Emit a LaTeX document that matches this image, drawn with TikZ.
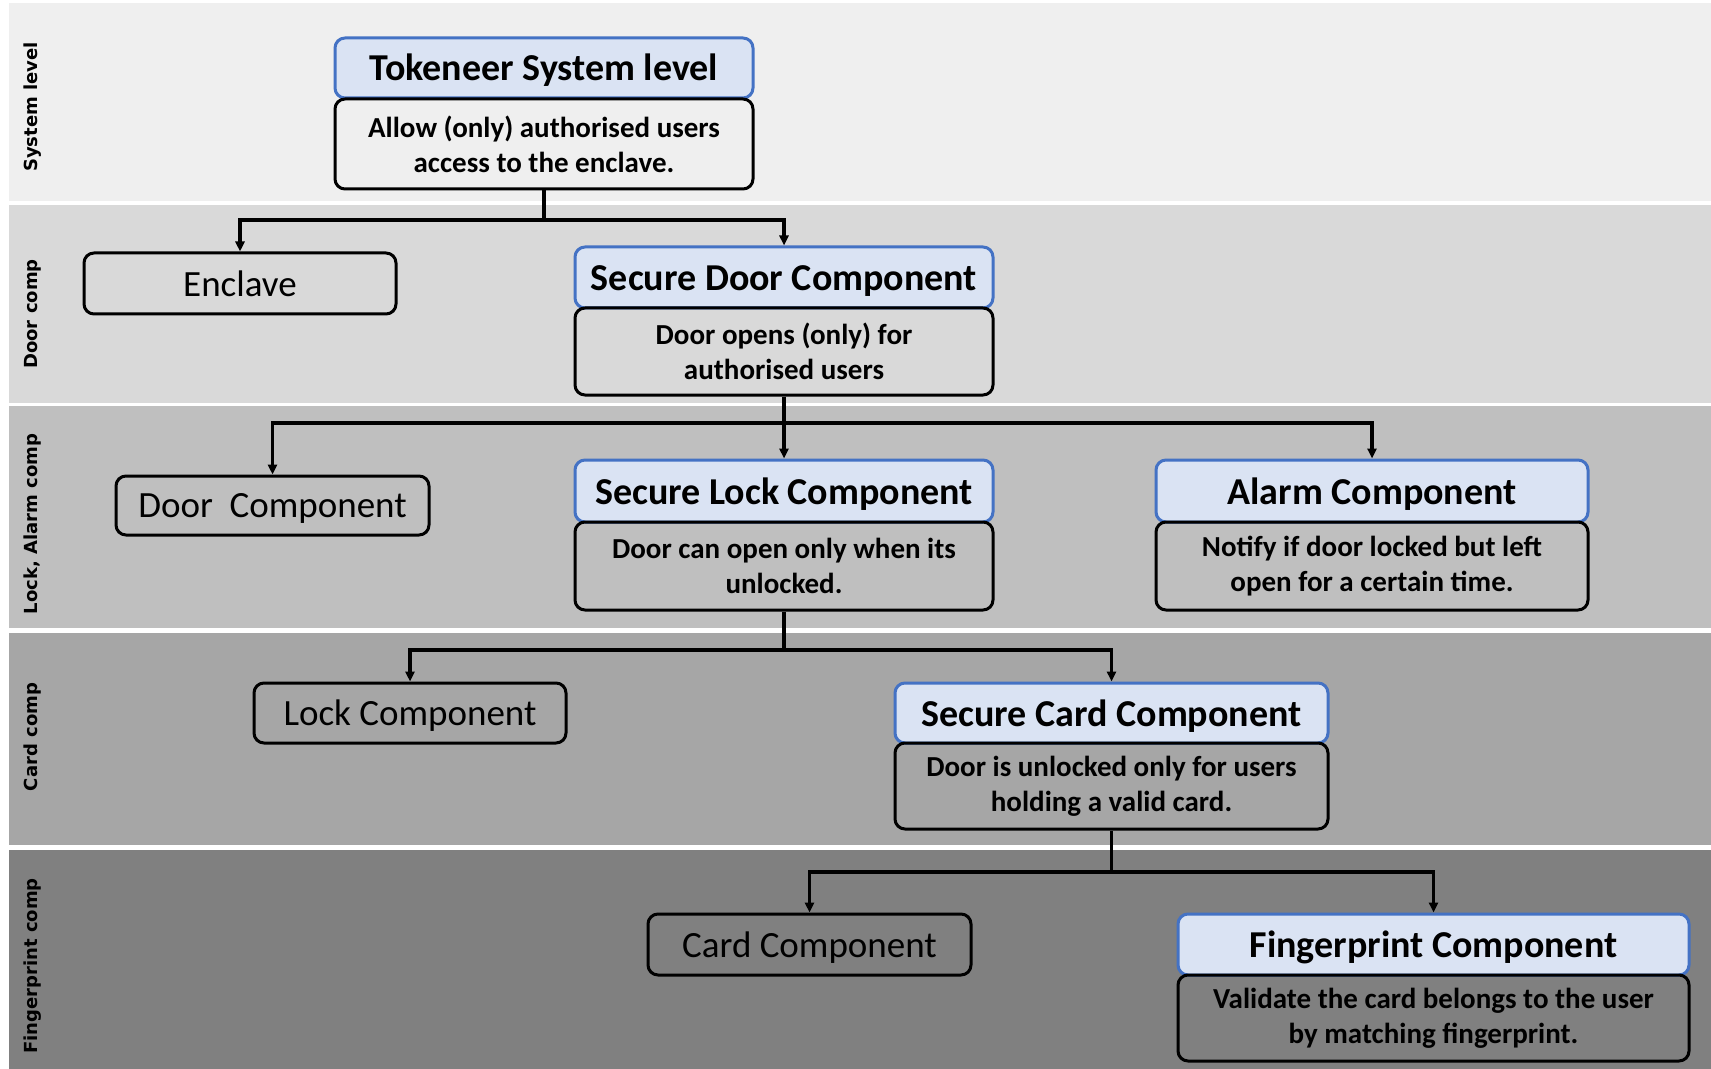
\documentclass[tikz,border=0pt]{standalone}
\usepackage{fontspec}
\setmainfont{Carlito}
\newfontfamily\labfont{DejaVu Sans}
\usetikzlibrary{arrows.meta}
\definecolor{bandA}{HTML}{EFEFEF}
\definecolor{bandB}{HTML}{D9D9D9}
\definecolor{bandC}{HTML}{BFBFBF}
\definecolor{bandD}{HTML}{A6A6A6}
\definecolor{bandE}{HTML}{808080}
\definecolor{tfill}{HTML}{DAE3F3}
\definecolor{tdraw}{HTML}{4472C4}
\begin{document}
\begin{tikzpicture}[x=0.5pt,y=-0.5pt,
  titlebox/.style={draw=tdraw, fill=tfill, line width=1.5pt, rounded corners=5pt, inner sep=0pt,
    text height=13pt, text depth=0pt, font=\fontsize{19}{23}\selectfont\bfseries},
  descbox/.style={draw=black, line width=1.5pt, rounded corners=5pt, inner sep=0pt, align=center,
    font=\fontsize{14.5}{17.5}\selectfont\bfseries},
  plainbox/.style={draw=black, line width=1.5pt, rounded corners=5pt, inner sep=0pt,
    text depth=0pt, font=\fontsize{18.5}{22}\selectfont},
  lab/.style={rotate=90, font=\labfont\fontsize{9}{11}\selectfont\bfseries},
  conn/.style={line width=1.6pt},
  arr/.style={line width=1.6pt, -{Triangle[length=5pt,width=4.5pt]}}
]
\useasboundingbox (0,0) rectangle (1711,1069);
\fill[white] (0,0) rectangle (1711,1069);
% bands
\fill[bandA] (9,3) rectangle (1711,201);
\fill[bandB] (9,205) rectangle (1711,403);
\fill[bandC] (9,406) rectangle (1711,628);
\fill[bandD] (9,633) rectangle (1711,845);
\fill[bandE] (9,850) rectangle (1711,1069);
% band labels
\node[lab] (l1) at (33,107) {System level};
\node[lab] (l2) at (33,314) {Door comp};
\node[lab] (l3) at (33,524) {Lock, Alarm comp};
\node[lab] (l4) at (33,737) {Card comp};
\node[lab] (l5) at (33,966) {Fingerprint comp};
% system level
\node[titlebox, minimum width=209pt, minimum height=30pt] (tokt) at (544,68) {Tokeneer System level};
\node[descbox, minimum width=209pt, minimum height=45pt] (tokd) at (544,144) {Allow (only) authorised users\\access to the enclave.};
% door comp
\node[plainbox, minimum width=156pt, minimum height=30.5pt] (encl) at (240,283.5) {Enclave};
\node[titlebox, minimum width=209pt, minimum height=30.5pt] (sdt) at (784,277.5) {Secure Door Component};
\node[descbox, minimum width=209pt, minimum height=43.5pt] (sdd) at (784,351.5) {Door opens (only) for\\authorised users};
% lock / alarm
\node[plainbox, minimum width=156.5pt, minimum height=29.5pt] (doorc) at (272.5,505.5) {Door\ \ Component};
\node[titlebox, minimum width=209pt, minimum height=31pt] (slt) at (784,491) {Secure Lock Component};
\node[descbox, minimum width=209pt, minimum height=44pt] (sld) at (784,566) {Door can open only when its\\unlocked.};
\node[titlebox, minimum width=216pt, minimum height=31pt] (alt) at (1372,491) {Alarm Component};
\node[descbox, minimum width=216pt, minimum height=44pt] (ald) at (1372,566) {Notify if door locked but left\\open for a certain time.};
% card
\node[plainbox, minimum width=156pt, minimum height=30pt] (lockc) at (410,713) {Lock Component};
\node[titlebox, minimum width=216.5pt, minimum height=30pt] (sct) at (1111.5,713) {Secure Card Component};
\node[descbox, minimum width=216.5pt, minimum height=43pt] (scd) at (1111.5,786) {Door is unlocked only for users\\holding a valid card.};
% fingerprint
\node[plainbox, minimum width=161.5pt, minimum height=30.5pt] (cardc) at (809.5,944.5) {Card Component};
\node[titlebox, minimum width=255.5pt, minimum height=30.5pt] (fpt) at (1433.5,944.5) {Fingerprint Component};
\node[descbox, minimum width=255.5pt, minimum height=43pt] (fpd) at (1433.5,1018) {Validate the card belongs to the user\\by matching fingerprint.};
% connectors
\coordinate (j1) at (544,220);
\draw[conn] (tokd.south) -- (j1);
\draw[arr] (j1) -| (encl.north);
\draw[arr] (j1) -| (sdt.north);
\coordinate (j2) at (784,423);
\draw[conn] (sdd.south) -- (j2);
\draw[arr] (j2) -| (doorc.north);
\draw[arr] (j2) -- (slt.north);
\draw[arr] (j2) -| (alt.north);
\coordinate (j3) at (784,650);
\draw[conn] (sld.south) -- (j3);
\draw[arr] (j3) -| (lockc.north);
\draw[arr] (j3) -| (sct.north);
\coordinate (j4) at (1111.5,872);
\draw[conn] (scd.south) -- (j4);
\draw[arr] (j4) -| (cardc.north);
\draw[arr] (j4) -| (fpt.north);
\end{tikzpicture}
\end{document}
